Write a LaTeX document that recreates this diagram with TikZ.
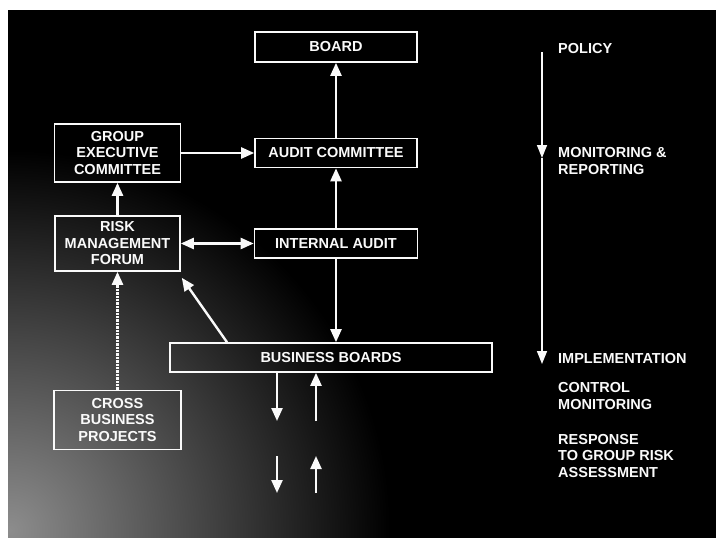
\documentclass[tikz,border=0pt]{standalone}
\usepackage{fontspec}
\setmainfont{Liberation Sans}
\usepackage{xcolor}
\usetikzlibrary{positioning,arrows.meta,calc}
\definecolor{inkcolor}{RGB}{250,250,250}
\tikzset{
  org box/.style={
    rectangle,
    draw=inkcolor,
    line width=1.6pt,
    text=inkcolor,
    align=center,
    inner sep=1pt,
    font=\fontsize{14.5}{16.5}\selectfont\bfseries
  },
  side label/.style={
    anchor=west,
    align=left,
    text=inkcolor,
    inner sep=0pt,
    font=\fontsize{14.5}{16.5}\selectfont\bfseries
  },
  flow/.style={
    -{Triangle[length=13pt,width=11pt]},
    draw=inkcolor,
    line width=2.4pt
  },
  scale flow/.style={
    -{Triangle[length=13pt,width=10pt]},
    draw=inkcolor,
    line width=1.5pt
  },
  twoway/.style={
    {Triangle[length=13pt,width=11pt]}-{Triangle[length=13pt,width=11pt]},
    draw=inkcolor,
    line width=2.4pt
  }
}

\begin{document}
\begin{tikzpicture}[x=1pt,y=-1pt]
  % Page and background
  \useasboundingbox (0,0) rectangle (716,538);
  \fill[white] (0,0) rectangle (716,538);
  \fill[black] (8,10) rectangle (716,538);
  \begin{scope}
    \clip (8,10) rectangle (716,538);
    \shade[inner color=black!45!white, outer color=black] (10,530) circle (380);
  \end{scope}

  % Boxes
  \node[org box, minimum width=162pt, minimum height=30pt] (board) at (336,47) {BOARD};
  \node[org box, minimum width=162pt, minimum height=29pt] (audit) at (336,153) {AUDIT COMMITTEE};
  \node[org box, minimum width=163pt, minimum height=29pt] (internal) at (336,243.5) {INTERNAL AUDIT};
  \node[org box, minimum width=126pt, minimum height=58pt] (gec) at (117.5,153) {GROUP\\EXECUTIVE\\COMMITTEE};
  \node[org box, minimum width=125pt, minimum height=55pt] (rmf) at (117.5,243.5) {RISK\\MANAGEMENT\\FORUM};
  \node[org box, minimum width=322pt, minimum height=29pt] (bb) at (331,357.5) {BUSINESS BOARDS};
  \node[org box, minimum width=127pt, minimum height=59pt] (cbp) at (117.5,420) {CROSS\\BUSINESS\\PROJECTS};

  % Connections
  \draw[flow] (audit) -- (board);
  \draw[flow] (internal) -- (audit);
  \draw[flow] (gec) -- (audit);
  \draw[twoway] (rmf) -- (internal);
  \draw[flow] (rmf) -- (gec);
  \draw[flow] (internal.south) -- (bb.north -| internal.south);
  \draw[flow] (bb.north -| 227,0) -- ([xshift=1pt,yshift=-6pt]rmf.south east);
  \draw[flow, densely dotted] (cbp) -- (rmf);

  % Below the business boards
  \coordinate (down1) at (277,421);
  \coordinate (up1) at (316,421);
  \coordinate (down2) at (277,456);
  \coordinate (up2) at (316,456);
  \coordinate (down3) at (277,493);
  \coordinate (up3) at (316,493);
  \draw[flow] (bb.south -| down1) -- (down1);
  \draw[flow] (up1) -- (bb.south -| up1);
  \draw[flow] (down2) -- (down3);
  \draw[flow] (up3) -- (up2);

  % Side scale
  \coordinate (policy top) at (542,52);
  \coordinate (monitor pt) at (542,158);
  \coordinate (impl pt) at (542,364);
  \draw[scale flow] (policy top) -- (monitor pt);
  \draw[scale flow] (monitor pt) -- (impl pt);
  \node[side label] (policy) at (558,49) {POLICY};
  \node[side label] (monitor) at (558,161) {MONITORING \&\\REPORTING};
  \node[side label] (impl) at (558,359) {IMPLEMENTATION};
  \node[side label] (control) at (558,396) {CONTROL\\MONITORING};
  \node[side label] (response) at (558,456) {RESPONSE\\TO GROUP RISK\\ASSESSMENT};
\end{tikzpicture}
\end{document}
